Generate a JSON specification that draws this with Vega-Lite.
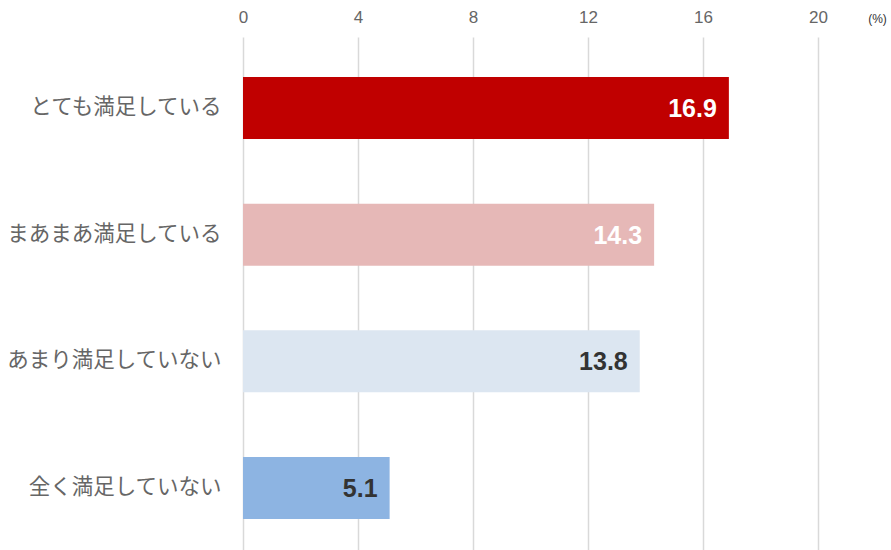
{
  "$schema": "https://vega.github.io/schema/vega-lite/v6.json",
  "autosize": "none",
  "width": 575,
  "height": 522,
  "padding": {"left": 243, "top": 37, "right": 73, "bottom": 0},
  "background": "white",
  "data": {"values": [
    {"cat": "とても満足している", "v": 16.9, "color": "#C00000", "tc": "white"},
    {"cat": "まあまあ満足している", "v": 14.3, "color": "#E6B8B7", "tc": "white"},
    {"cat": "あまり満足していない", "v": 13.8, "color": "#DCE6F1", "tc": "#333333"},
    {"cat": "全く満足していない", "v": 5.1, "color": "#8DB4E2", "tc": "#333333"}
  ]},
  "config": {"view": {"stroke": null}},
  "encoding": {
    "y": {"field": "cat", "type": "nominal", "sort": null,
      "scale": {"paddingInner": 0.51, "paddingOuter": 0.316},
      "axis": {"title": null, "domain": false, "ticks": false, "labelPadding": 22,
        "labelFont": "Noto Sans CJK JP", "labelFontSize": 21.5, "labelColor": "#666666", "labelLimit": 300}},
    "x": {"field": "v", "type": "quantitative",
      "scale": {"domain": [0, 20], "nice": false},
      "axis": {"orient": "top", "values": [0, 4, 8, 12, 16, 20], "domain": false, "ticks": false,
        "grid": true, "gridColor": "#d9d9d9", "gridWidth": 1.5, "labelFlush": false,
        "labelFont": "Liberation Sans", "labelFontSize": 17, "labelColor": "#666666", "labelPadding": 11,
        "title": "(%)", "titleFont": "Liberation Sans", "titleFontSize": 12, "titleFontWeight": "normal",
        "titleColor": "#333333", "titleX": 634, "titleY": -19, "titleAnchor": "middle", "titleBaseline": "middle", "titleAlign": "center"}}
  },
  "layer": [
    {"mark": {"type": "bar"},
     "encoding": {"color": {"field": "color", "type": "nominal", "scale": null}}},
    {"mark": {"type": "text", "align": "right", "baseline": "middle", "dx": -12, "dy": 1,
      "font": "Liberation Sans", "fontSize": 25, "fontWeight": "bold"},
     "encoding": {"text": {"field": "v", "type": "quantitative", "format": ".1f"},
       "color": {"field": "tc", "type": "nominal", "scale": null}}}
  ]
}
